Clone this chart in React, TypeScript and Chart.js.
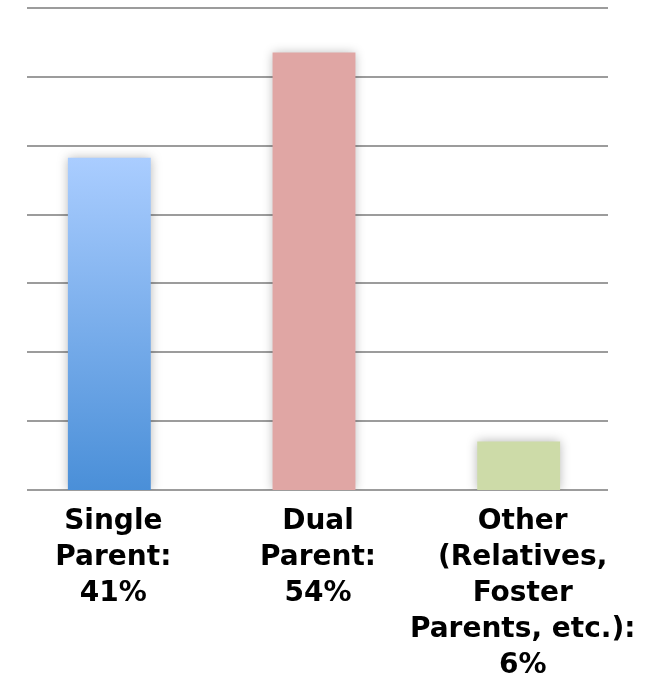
import React, { useEffect, useRef } from "react";
import { Chart, registerables } from "chart.js";

Chart.register(...registerables);

const categories: string[][] = [
  ["Single", "Parent:", "41%"],
  ["Dual", "Parent:", "54%"],
  ["Other", "(Relatives,", "Foster", "Parents, etc.):", "6%"],
];
const values: number[] = [41, 54, 6];
const yMax = 59.5;
const gridCount = 8;

const gridPlugin = {
  id: "insetGrid",
  beforeDatasetsDraw(chart: any) {
    const { ctx, chartArea, scales } = chart;
    const y = scales.y;
    ctx.save();
    ctx.strokeStyle = "#9c9c9c";
    ctx.lineWidth = 2;
    const x0 = chartArea.left + 20;
    const x1 = chartArea.right - 13;
    y.ticks.forEach((t: any) => {
      const py = Math.round(y.getPixelForValue(t.value));
      ctx.beginPath();
      ctx.moveTo(x0, py);
      ctx.lineTo(x1, py);
      ctx.stroke();
    });
    ctx.restore();
    ctx.save();
    ctx.shadowColor = "rgba(0,0,0,0.28)";
    ctx.shadowBlur = 10;
    ctx.shadowOffsetX = 0;
    ctx.shadowOffsetY = 0;
  },
  afterDatasetsDraw(chart: any) {
    chart.ctx.restore();
  },
};

export default function App() {
  const ref = useRef<HTMLCanvasElement>(null);
  useEffect(() => {
    document.body.style.margin = "0";
    const canvas = ref.current!;
    const chart = new Chart(canvas, {
      type: "bar",
      data: {
        labels: categories,
        datasets: [
          {
            data: values,
            backgroundColor: (c: any) => {
              const i = c.dataIndex;
              if (i === 1) return "#e0a6a4";
              if (i === 2) return "#cddba8";
              const ch = c.chart;
              const y = ch.scales && ch.scales.y;
              if (!y || !ch.chartArea) return "#7aaeea";
              const top = y.getPixelForValue(values[0]);
              const bot = y.getPixelForValue(0);
              const g = ch.ctx.createLinearGradient(0, top, 0, bot);
              g.addColorStop(0, "#aacdff");
              g.addColorStop(1, "#4a8fd8");
              return g;
            },
            borderWidth: 0,
            barPercentage: 0.405,
            categoryPercentage: 1,
          },
        ],
      },
      options: {
        animation: false,
        responsive: false,
        maintainAspectRatio: false,
        layout: { padding: { left: 7, right: 26, top: 8, bottom: 6 } },
        plugins: { legend: { display: false }, tooltip: { enabled: false } },
        scales: {
          x: {
            grid: { display: false },
            border: { display: false },
            ticks: {
              color: "#000",
              padding: 6,
              labelOffset: 4,
              maxRotation: 0,
              autoSkip: false,
              font: { family: "DejaVu Sans", weight: "bold", size: 28, lineHeight: 36 / 28 },
            },
          },
          y: {
            display: false,
            min: 0,
            max: yMax,
            ticks: { count: gridCount },
          },
        },
      },
      plugins: [gridPlugin],
    });
    return () => chart.destroy();
  }, []);
  return (
    <div style={{ position: "absolute", left: 0, top: 0, width: 647, height: 696 }}>
      <canvas ref={ref} width={647} height={696} style={{ display: "block" }} />
    </div>
  );
}
